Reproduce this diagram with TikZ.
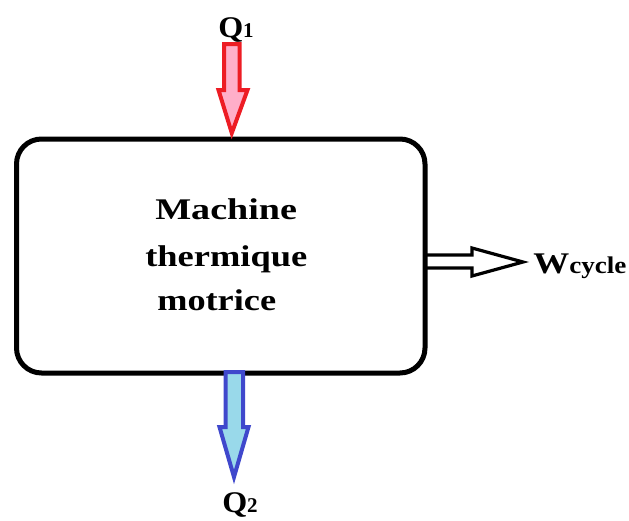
\documentclass[tikz,border=0pt]{standalone}
\usepackage{fontspec}
\setmainfont{Liberation Serif}
\definecolor{redline}{RGB}{237,28,36}
\definecolor{pinkfill}{RGB}{255,174,201}
\definecolor{blueline}{RGB}{63,72,204}
\definecolor{bluefill}{RGB}{153,217,234}
\begin{document}
\begin{tikzpicture}[x=0.75pt,y=-0.75pt,
  boxstyle/.style={draw=black,line width=3.75pt,rounded corners=18.75pt},
  heatin/.style={draw=redline,fill=pinkfill,line width=3pt,line join=miter},
  heatout/.style={draw=blueline,fill=bluefill,line width=3pt,line join=miter},
  workarrow/.style={draw=black,fill=white,line width=2.4pt,line join=miter},
  bigtxt/.style={anchor=base west,inner sep=0pt,font=\bfseries\fontsize{22.5}{26}\selectfont},
  qtxt/.style={anchor=base west,inner sep=0pt,font=\bfseries\fontsize{22.5}{26}\selectfont}
]
\useasboundingbox (0,0) rectangle (629,521);
% work arrow
\draw[workarrow] (425,255) -- (472,255) -- (472,248) -- (523,262) -- (472,276) -- (472,268) -- (425,268) -- cycle;
% box
\draw[boxstyle] (16.5,139) rectangle (425,373);
% red arrow
\draw[heatin] (224,44) -- (239.5,44) -- (239.5,90) -- (247.5,90) -- (231.8,133) -- (218.5,90) -- (224,90) -- cycle;
% blue arrow
\draw[heatout] (225.5,372) -- (243,372) -- (243,427) -- (248.5,427) -- (234,477) -- (219.5,427) -- (225.5,427) -- cycle;
% texts
\node[bigtxt] (l1) at (155,219) {\scalebox{1.27}[1]{Machine}};
\node[bigtxt] (l2) at (145,266) {\scalebox{1.215}[1]{thermique}};
\node[bigtxt] (l3) at (157,310) {\scalebox{1.21}[1]{motrice}};
\node[qtxt] (q1) at (218,37) {\scalebox{1.07}[1]{Q}\fontsize{15.75}{18}\selectfont 1};
\node[qtxt] (q2) at (222,512) {\scalebox{1.07}[1]{Q}\fontsize{15.75}{18}\selectfont 2};
\node[qtxt] (w) at (533,273) {\scalebox{1.2}[1]{W}\fontsize{18}{20}\selectfont\scalebox{1.13}[1]{cycle}};
\end{tikzpicture}
\end{document}
